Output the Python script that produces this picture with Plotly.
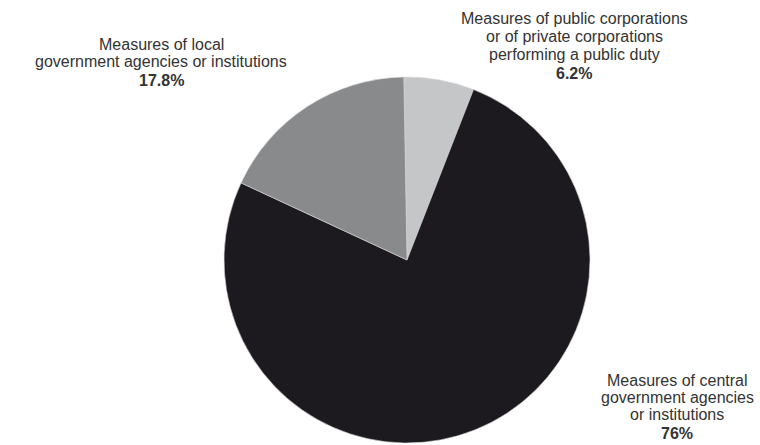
import plotly.graph_objects as go

# Shares of measures by type of issuing body
categories = [
    "Measures of public corporations<br>or of private corporations<br>performing a public duty",
    "Measures of central<br>government agencies<br>or institutions",
    "Measures of local<br>government agencies or institutions",
]
shares = [6.2, 76, 17.8]
share_labels = ["6.2%", "76%", "17.8%"]
colors = ["#c5c6c8", "#1c1a1f", "#898a8c"]

W, H = 760, 445
cx, cy, r = 407, 260, 183
FONT = "Liberation Sans, Arial, Helvetica, sans-serif"
FS = 16

fig = go.Figure(
    go.Pie(
        values=shares,
        labels=categories,
        sort=False,
        direction="clockwise",
        rotation=-1,
        textinfo="none",
        hoverinfo="skip",
        marker=dict(colors=colors, line=dict(color="#d8d8d8", width=0.6)),
        domain=dict(x=[(cx - r) / W, (cx + r) / W], y=[1 - (cy + r) / H, 1 - (cy - r) / H]),
        showlegend=False,
    )
)

# label block placement: horizontal centre and baseline of each text line (px)
label_x = [574, 677, 161]
label_baselines = [
    [24, 41.7, 59.3, 78.3],
    [386, 403, 420, 438.5],
    [49.5, 67, 86],
]

annotations = []
for text, pct, px, bases in zip(categories, share_labels, label_x, label_baselines):
    lines = text.split("<br>") + [f"<b>{pct}</b>"]
    for line, base in zip(lines, bases):
        annotations.append(
            dict(
                text=line,
                x=px / W,
                y=1 - (base - 0.33 * FS) / H,
                xref="paper",
                yref="paper",
                xanchor="center",
                yanchor="middle",
                align="center",
                showarrow=False,
                font=dict(family=FONT, size=FS, color="#333333"),
            )
        )

fig.update_layout(
    width=W,
    height=H,
    margin=dict(l=0, r=0, t=0, b=0),
    paper_bgcolor="white",
    plot_bgcolor="white",
    annotations=annotations,
)

fig.write_html("out.html")
